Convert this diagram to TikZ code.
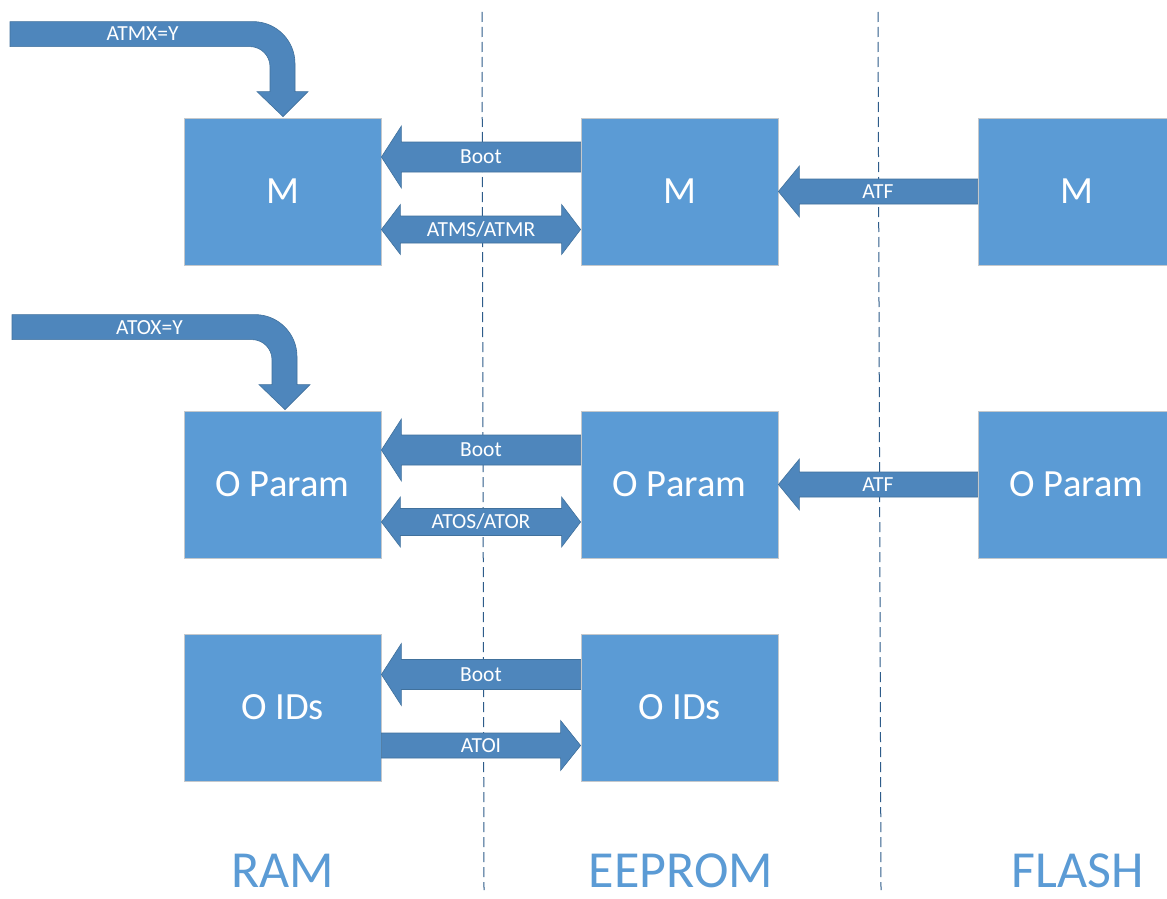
\documentclass[tikz,border=0pt]{standalone}
\usepackage{fontspec}
\setmainfont{Carlito}
\usetikzlibrary{calc}
\definecolor{boxblue}{HTML}{5B9BD5}
\definecolor{arrowblue}{HTML}{4E86BC}
\definecolor{arrowedge}{HTML}{41719C}
\definecolor{dashblue}{HTML}{2E5C8A}
\definecolor{boxedge}{HTML}{C4C8CC}
\newcommand\leftblock[5]{%
  \draw[blk] ($(#1)+(0,-#3)$) -- ($(#2)+(#5,-#3)$) -- ($(#2)+(#5,-#4)$) -- (#2)
    -- ($(#2)+(#5,#4)$) -- ($(#2)+(#5,#3)$) -- ($(#1)+(0,#3)$) -- cycle;}
\newcommand\rightblock[5]{%
  \draw[blk] ($(#1)+(0,-#3)$) -- ($(#2)+(-#5,-#3)$) -- ($(#2)+(-#5,-#4)$) -- (#2)
    -- ($(#2)+(-#5,#4)$) -- ($(#2)+(-#5,#3)$) -- ($(#1)+(0,#3)$) -- cycle;}
\newcommand\doubleblock[5]{%
  \draw[blk] (#1) -- ($(#1)+(#5,-#4)$) -- ($(#1)+(#5,-#3)$) -- ($(#2)+(-#5,-#3)$)
    -- ($(#2)+(-#5,-#4)$) -- (#2) -- ($(#2)+(-#5,#4)$) -- ($(#2)+(-#5,#3)$)
    -- ($(#1)+(#5,#3)$) -- ($(#1)+(#5,#4)$) -- cycle;}
\newcommand\bentblock[1]{%
  \draw[blk] ($(#1)+(-273,-95)$) -- ($(#1)+(-30,-95)$)
    .. controls ($(#1)+(-6.8,-95)$) and ($(#1)+(12,-76.2)$) .. ($(#1)+(12,-53)$)
    -- ($(#1)+(12,-25)$) -- ($(#1)+(25,-25)$) -- (#1) -- ($(#1)+(-26,-25)$)
    -- ($(#1)+(-13,-25)$) -- ($(#1)+(-13,-50)$)
    .. controls ($(#1)+(-13,-61)$) and ($(#1)+(-22,-70)$) .. ($(#1)+(-33,-70)$)
    -- ($(#1)+(-273,-70)$) -- cycle;}
\begin{document}
\begin{tikzpicture}[x=1pt,y=-1pt,
  mem/.style={fill=boxblue, draw=boxedge, line width=0.8pt, minimum width=197pt,
    minimum height=147pt, inner sep=0pt, text=white,
    font=\fontsize{38.5}{42}\selectfont, text height=24.8pt, text depth=0pt},
  blk/.style={fill=arrowblue, draw=arrowedge, line width=0.6pt, line join=miter},
  alabel/.style={text=white, font=\fontsize{21.5}{24}\selectfont, inner sep=0pt,
    text height=13.8pt, text depth=0pt},
  divider/.style={draw=dashblue, line width=1pt, dash pattern=on 10pt off 5pt},
  memlabel/.style={text=boxblue, font=\fontsize{52}{56}\selectfont, anchor=base,
    inner sep=0pt}]
\useasboundingbox (0,0) rectangle (1167,899);
\clip (0,0) rectangle (1167,899);
\fill[white] (0,0) rectangle (1167,899);

% dividers
\coordinate (d1t) at (482,12);
\coordinate (d1b) at (484,890);
\coordinate (d2t) at (878,12);
\coordinate (d2b) at (881,890);
\draw[divider] (d1t) -- (d1b);
\draw[divider] (d2t) -- (d2b);

% memory blocks
\node[mem] (r1) at (282.5,191.5) {M};
\node[mem] (e1) at (679.5,191.5) {M};
\node[mem] (f1) at (1076.5,191.5) {M};
\node[mem] (r2) at (282.5,484.5) {O Param};
\node[mem] (e2) at (679.5,484.5) {O Param};
\node[mem] (f2) at (1076.5,484.5) {O Param};
\node[mem] (r3) at (282.5,707.5) {O IDs};
\node[mem] (e3) at (679.5,707.5) {O IDs};

% row 1
\coordinate (b1s) at ($(e1.west)+(0,-34.5)$);
\coordinate (b1e) at ($(r1.east)+(0,-34.5)$);
\leftblock{b1s}{b1e}{15}{31}{20}
\node[alabel] (lb1) at ($(b1s)!0.5!(b1e)$) {Boot};
\coordinate (a1l) at ($(r1.east)+(0,38)$);
\coordinate (a1r) at ($(e1.west)+(0,38)$);
\doubleblock{a1l}{a1r}{13.5}{25}{19}
\node[alabel] (la1) at ($(a1l)!0.5!(a1r)$) {ATMS/ATMR};
\coordinate (t1s) at (f1.west);
\coordinate (t1e) at (e1.east);
\leftblock{t1s}{t1e}{12.5}{25.5}{21}
\node[alabel] (lt1) at ($(t1s)!0.5!(t1e)$) {ATF};
\coordinate (mx) at ($(r1.north)+(0.5,-1)$);
\bentblock{mx}
\node[alabel] (lmx) at ($(mx)+(-140.5,-82.5)$) {ATMX=Y};

% row 2
\coordinate (b2s) at ($(e2.west)+(0,-34.5)$);
\coordinate (b2e) at ($(r2.east)+(0,-34.5)$);
\leftblock{b2s}{b2e}{15}{31}{20}
\node[alabel] (lb2) at ($(b2s)!0.5!(b2e)$) {Boot};
\coordinate (a2l) at ($(r2.east)+(0,37.5)$);
\coordinate (a2r) at ($(e2.west)+(0,37.5)$);
\doubleblock{a2l}{a2r}{13.5}{25}{19}
\node[alabel] (la2) at ($(a2l)!0.5!(a2r)$) {ATOS/ATOR};
\coordinate (t2s) at (f2.west);
\coordinate (t2e) at (e2.east);
\leftblock{t2s}{t2e}{12.5}{25.5}{21}
\node[alabel] (lt2) at ($(t2s)!0.5!(t2e)$) {ATF};
\coordinate (ox) at ($(r2.north)+(2.5,-1)$);
\bentblock{ox}
\node[alabel] (lox) at ($(ox)+(-135.5,-82.5)$) {ATOX=Y};

% row 3
\coordinate (b3s) at ($(e3.west)+(0,-33)$);
\coordinate (b3e) at ($(r3.east)+(0,-33)$);
\leftblock{b3s}{b3e}{15}{31}{20}
\node[alabel] (lb3) at ($(b3s)!0.5!(b3e)$) {Boot};
\coordinate (i3s) at ($(r3.east)+(0,38)$);
\coordinate (i3e) at ($(e3.west)+(0,38)$);
\rightblock{i3s}{i3e}{12.5}{25}{20}
\node[alabel] (li3) at ($(i3s)!0.5!(i3e)$) {ATOI};

% memory labels
\node[memlabel] (ram) at (283,887) {RAM};
\node[memlabel] (eeprom) at (681,887) {EEPROM};
\node[memlabel] (flash) at (1078,887) {FLASH};
\end{tikzpicture}
\end{document}
